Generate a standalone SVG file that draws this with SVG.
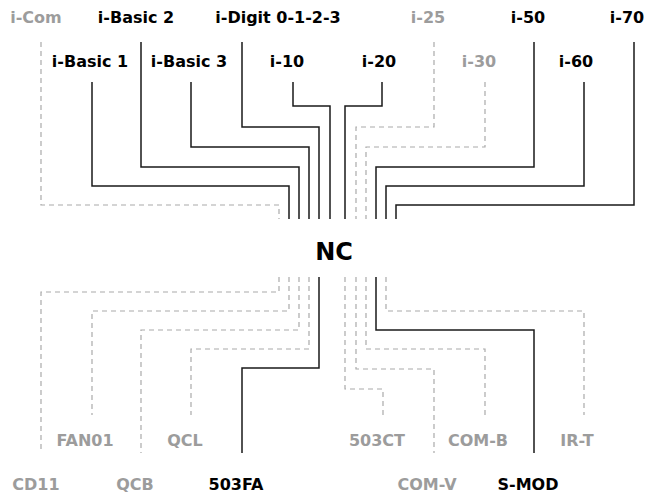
<svg xmlns="http://www.w3.org/2000/svg" width="648" height="499" viewBox="0 0 648 499">
<style>
text{font-family:"DejaVu Sans",sans-serif;font-weight:bold;font-size:16px;text-anchor:middle}
.k{fill:#000}
.g{fill:#9c9c9c}
.nc{font-size:24px}
.s{fill:none;stroke:#1a1a1a;stroke-width:1.5}
.d{fill:none;stroke:#aaaaaa;stroke-width:1.2;stroke-dasharray:5 4}
</style>
<rect width="648" height="499" fill="#fff"/>
<g id="connectors">
<path class="d" d="M41,42V205H279V219"/>
<path class="s" d="M92,82V186H289V219"/>
<path class="s" d="M141,42V167H299V219"/>
<path class="s" d="M191,82V147H309V219"/>
<path class="s" d="M242,42V127H319V219"/>
<path class="s" d="M293,82V106H330V219"/>
<path class="s" d="M382,82V106H345V219"/>
<path class="d" d="M434,42V127H356V219"/>
<path class="d" d="M485,82V147H366V219"/>
<path class="s" d="M534,42V167H376V219"/>
<path class="s" d="M584,82V186H386V219"/>
<path class="s" d="M634,42V205H396V219"/>
<path class="d" d="M279,277V292H41V453"/>
<path class="d" d="M289,277V311H92V415"/>
<path class="d" d="M299,277V330H141V453"/>
<path class="d" d="M309,277V349H191V415"/>
<path class="s" d="M319,277V368H242V453"/>
<path class="d" d="M345,277V389H383V415"/>
<path class="d" d="M356,277V369H434V453"/>
<path class="d" d="M366,277V349H485V415"/>
<path class="s" d="M376,277V330H534V453"/>
<path class="d" d="M386,277V311H584V415"/>
</g>
<g id="nc"><text class="k nc" x="334" y="260">NC</text></g>
<g id="i-com"><text class="g" x="36" y="23">i-Com</text></g>
<g id="i-basic2"><text class="k" x="136" y="23">i-Basic 2</text></g>
<g id="i-digit"><text class="k" x="278" y="23">i-Digit 0-1-2-3</text></g>
<g id="i-25"><text class="g" x="428" y="23">i-25</text></g>
<g id="i-50"><text class="k" x="528" y="23">i-50</text></g>
<g id="i-70"><text class="k" x="627" y="23">i-70</text></g>
<g id="i-basic1"><text class="k" x="90" y="67">i-Basic 1</text></g>
<g id="i-basic3"><text class="k" x="189" y="67">i-Basic 3</text></g>
<g id="i-10"><text class="k" x="287" y="67">i-10</text></g>
<g id="i-20"><text class="k" x="379" y="67">i-20</text></g>
<g id="i-30"><text class="g" x="479" y="67">i-30</text></g>
<g id="i-60"><text class="k" x="576" y="67">i-60</text></g>
<g id="fan01"><text class="g" x="85" y="446">FAN01</text></g>
<g id="qcl"><text class="g" x="185" y="446">QCL</text></g>
<g id="503ct"><text class="g" x="377" y="446">503CT</text></g>
<g id="com-b"><text class="g" x="478" y="446">COM-B</text></g>
<g id="ir-t"><text class="g" x="577" y="446">IR-T</text></g>
<g id="cd11"><text class="g" x="36" y="490">CD11</text></g>
<g id="qcb"><text class="g" x="135" y="490">QCB</text></g>
<g id="503fa"><text class="k" x="236" y="490">503FA</text></g>
<g id="com-v"><text class="g" x="427" y="490">COM-V</text></g>
<g id="s-mod"><text class="k" x="528" y="490">S-MOD</text></g>
</svg>
